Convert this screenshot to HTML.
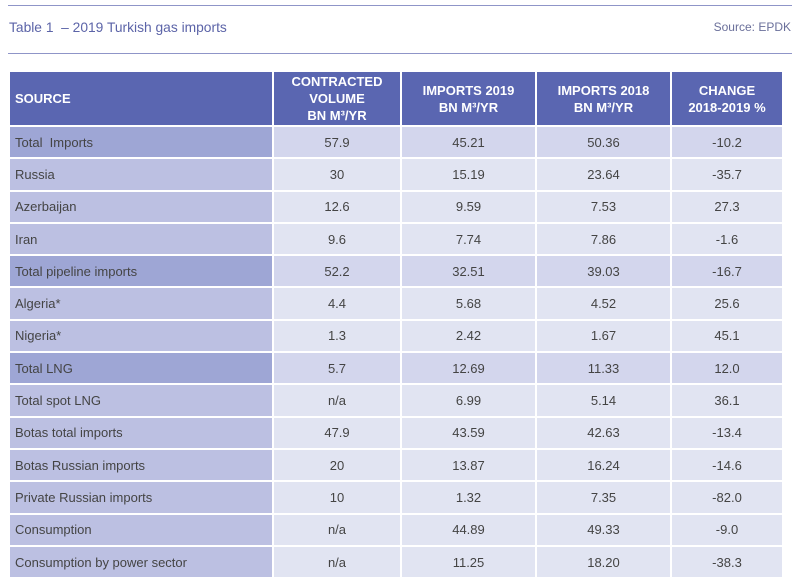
<!DOCTYPE html>
<html><head><style>
body{margin:0;width:800px;height:582px;background:#fff;font-family:"Liberation Sans",sans-serif;position:relative;overflow:hidden}
.hl{position:absolute;left:8px;width:784px;height:1px;background:#8f95c8}
.t{position:absolute;top:20px;font-size:13.8px;color:#5c64a8}
table{position:absolute;left:8px;top:70px;border-collapse:collapse;table-layout:fixed;width:774px}
td,th{border:2px solid #fff;padding:0;font-size:13px;color:#444;text-align:center;height:30.3px;overflow:hidden}
th{background:#5a66b1;color:#fff;font-weight:bold;height:53px;line-height:17px;font-size:13px}
td.s{text-align:left;padding-left:5px;background:#bcc0e2}
td{background:#e1e4f2}
tr.k td{background:#d3d6ed}
tr.k td.s{background:#9ea6d5}
</style></head><body>
<div class="hl" style="top:5px"></div>
<div class="t" style="left:9px">Table 1 &nbsp;– 2019 Turkish gas imports</div>
<div class="t" style="right:9px;color:#6a6f9a;font-size:12px">Source: EPDK</div>
<div class="hl" style="top:53px"></div>
<table>
<colgroup><col style="width:264px"><col style="width:128px"><col style="width:135px"><col style="width:135px"><col style="width:112px"></colgroup>
<tr><th style="text-align:left;padding-left:5px">SOURCE</th><th>CONTRACTED<br>VOLUME<br>BN M³/YR</th><th>IMPORTS 2019<br>BN M³/YR</th><th>IMPORTS 2018<br>BN M³/YR</th><th>CHANGE<br>2018-2019 %</th></tr>
<tr class="k"><td class="s">Total &nbsp;Imports</td><td>57.9</td><td>45.21</td><td>50.36</td><td>-10.2</td></tr>
<tr><td class="s">Russia</td><td>30</td><td>15.19</td><td>23.64</td><td>-35.7</td></tr>
<tr><td class="s">Azerbaijan</td><td>12.6</td><td>9.59</td><td>7.53</td><td>27.3</td></tr>
<tr><td class="s">Iran</td><td>9.6</td><td>7.74</td><td>7.86</td><td>-1.6</td></tr>
<tr class="k"><td class="s">Total pipeline imports</td><td>52.2</td><td>32.51</td><td>39.03</td><td>-16.7</td></tr>
<tr><td class="s">Algeria*</td><td>4.4</td><td>5.68</td><td>4.52</td><td>25.6</td></tr>
<tr><td class="s">Nigeria*</td><td>1.3</td><td>2.42</td><td>1.67</td><td>45.1</td></tr>
<tr class="k"><td class="s">Total LNG</td><td>5.7</td><td>12.69</td><td>11.33</td><td>12.0</td></tr>
<tr><td class="s">Total spot LNG</td><td>n/a</td><td>6.99</td><td>5.14</td><td>36.1</td></tr>
<tr><td class="s">Botas total imports</td><td>47.9</td><td>43.59</td><td>42.63</td><td>-13.4</td></tr>
<tr><td class="s">Botas Russian imports</td><td>20</td><td>13.87</td><td>16.24</td><td>-14.6</td></tr>
<tr><td class="s">Private Russian imports</td><td>10</td><td>1.32</td><td>7.35</td><td>-82.0</td></tr>
<tr><td class="s">Consumption</td><td>n/a</td><td>44.89</td><td>49.33</td><td>-9.0</td></tr>
<tr><td class="s">Consumption by power sector</td><td>n/a</td><td>11.25</td><td>18.20</td><td>-38.3</td></tr>
</table>
</body></html>
